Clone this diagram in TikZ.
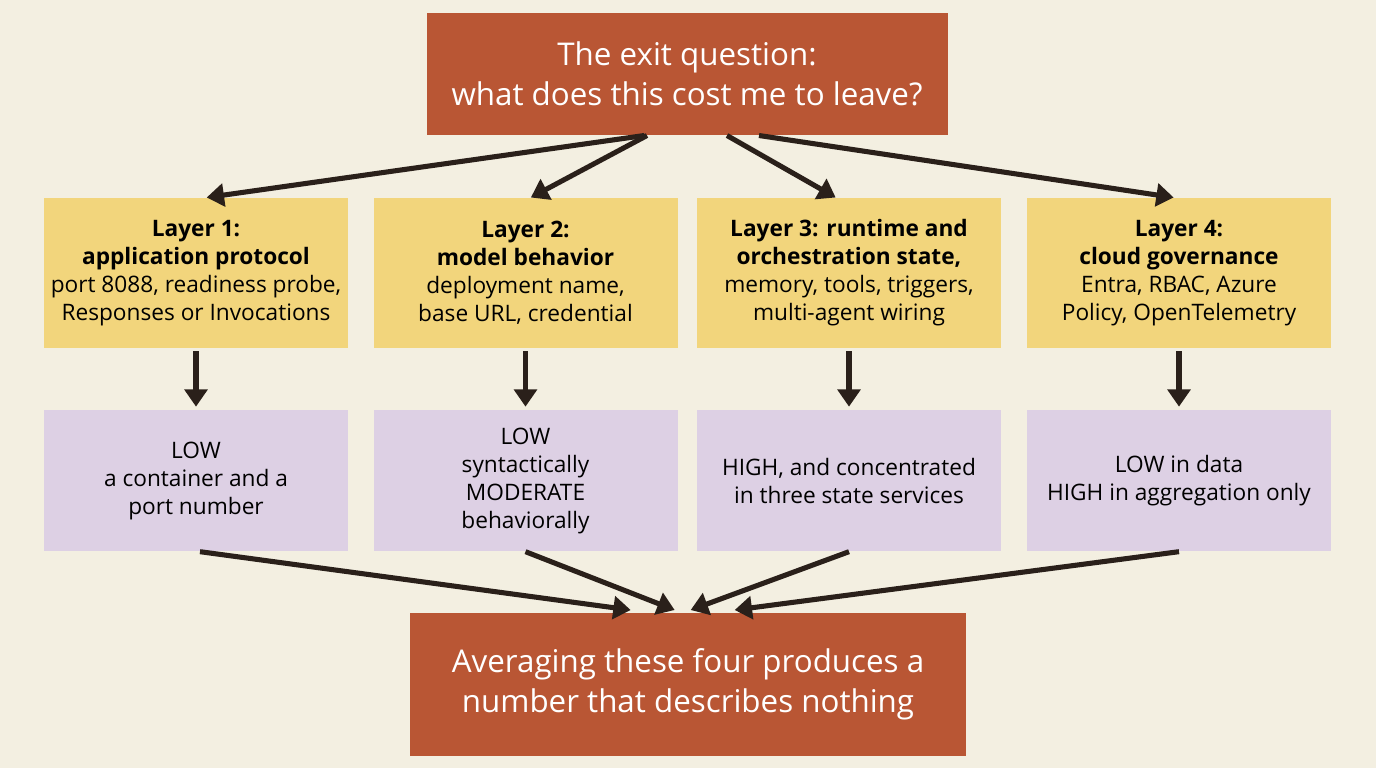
\documentclass[tikz,border=0pt]{standalone}
\usepackage{fontspec}
\setmainfont{Open Sans}
\usetikzlibrary{arrows.meta}
\definecolor{bgcol}{RGB}{243,239,225}
\definecolor{rust}{RGB}{185,86,52}
\definecolor{layercol}{RGB}{242,213,124}
\definecolor{costcol}{RGB}{221,208,228}
\definecolor{inkcol}{RGB}{42,32,26}
\tikzset{every picture/.style={line width=0.75pt}}
\tikzset{
	rustbox/.style={fill=rust, text=white, align=center, inner sep=0pt, font=\fontsize{23.5}{30}\selectfont},
	layerbox/.style={fill=layercol, text=black, align=center, inner sep=0pt, minimum width=228pt, minimum height=112.5pt, font=\fontsize{17}{21}\selectfont},
	costbox/.style={fill=costcol, text=black, align=center, inner sep=0pt, minimum width=228pt, minimum height=106pt, font=\fontsize{17}{21}\selectfont},
	flow/.style={draw=inkcol, line width=3.8pt, -{Triangle[length=13pt,width=17pt]}}
}

\begin{document}
\begin{tikzpicture}[x=0.75pt,y=0.75pt,yscale=-1,xscale=1]
	\fill [bgcol] (0,0) rectangle (1376,768);
	\useasboundingbox (0,0) rectangle (1376,768);
	
	% Question
	\node [rustbox, minimum width=390.75pt, minimum height=91.5pt] (question) at (687,74) {The exit question:\\what does this cost me to leave?};
	
	% Layers
	\node [layerbox] (layerA) at (196,273) {\textbf{Layer 1:}\\\textbf{application protocol}\\port 8088, readiness probe,\\Responses or Invocations};
	\node [layerbox] (layerB) at (525.5,273) {\textbf{Layer 2:}\\\textbf{model behavior}\\deployment name,\\base URL, credential};
	\node [layerbox] (layerC) at (849,273) {\textbf{Layer 3: runtime and}\\\textbf{orchestration state,}\\memory, tools, triggers,\\multi-agent wiring};
	\node [layerbox] (layerD) at (1179,273) {\textbf{Layer 4:}\\\textbf{cloud governance}\\Entra, RBAC, Azure\\Policy, OpenTelemetry};
	
	% Costs
	\node [costbox] (costA) at (196,480.5) {LOW\\a container and a\\port number};
	\node [costbox] (costB) at (525.5,480.5) {LOW\\syntactically\\MODERATE\\behaviorally};
	\node [costbox] (costC) at (849,480.5) {HIGH, and concentrated\\in three state services};
	\node [costbox] (costD) at (1179,480.5) {LOW in data\\HIGH in aggregation only};
	
	% Verdict
	\node [rustbox, minimum width=417pt, minimum height=107pt] (verdict) at (688,684.5) {Averaging these four produces a\\number that describes nothing};
	
	% Arrows from question
	\draw [flow] ([xshift=-32pt]question.south) -- ([xshift=8pt]layerA.north);
	\draw [flow] ([xshift=-30pt]question.south) -- ([xshift=4pt]layerB.north);
	\draw [flow] ([xshift=30pt]question.south) -- ([xshift=-10pt]layerC.north);
	\draw [flow] ([xshift=54pt]question.south) -- ([xshift=-4pt]layerD.north);
	
	% Arrows layer to cost
	\foreach \k in {A,B,C,D}{
		\draw [flow] ([yshift=2pt]layer\k.south) -- ([yshift=-2pt]cost\k.north);
	}
	
	% Arrows to verdict
	\draw [flow] ([xshift=3pt]costA.south) -- ([xshift=-43pt,yshift=-2pt]verdict.north);
	\draw [flow] (costB.south) -- ([xshift=-10pt,yshift=-2pt]verdict.north);
	\draw [flow] (costC.south) -- ([xshift=2pt,yshift=-2pt]verdict.north);
	\draw [flow] (costD.south) -- ([xshift=35pt,yshift=-2pt]verdict.north);
\end{tikzpicture}
\end{document}
